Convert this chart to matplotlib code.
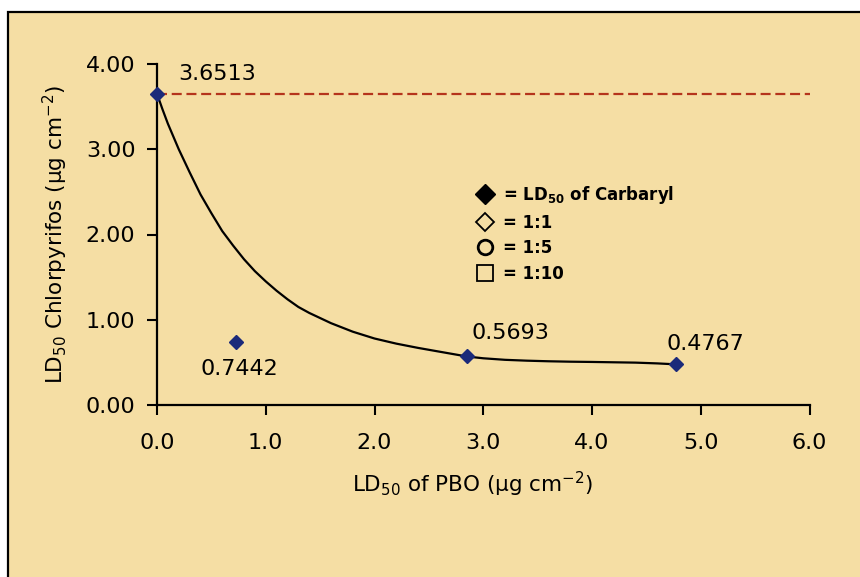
import matplotlib
matplotlib.use("Agg")
import matplotlib.pyplot as plt
from matplotlib.lines import Line2D
from matplotlib.patches import Rectangle
from matplotlib.font_manager import FontProperties

# ---------------- data ----------------
pbo_dose = [0.0, 0.73, 2.85, 4.77]                  # LD50 of PBO (ug cm-2)
chlorpyrifos_ld50 = [3.6513, 0.7442, 0.5693, 0.4767]
point_labels = ["3.6513", "0.7442", "0.5693", "0.4767"]

baseline_ld50 = 3.6513                              # dashed reference line

# fitted curve
curve_x = [0.00, 0.05, 0.10, 0.15, 0.20, 0.30, 0.40, 0.50, 0.60, 0.70, 0.80,
           0.90, 1.00, 1.10, 1.20, 1.30, 1.40, 1.50, 1.60, 1.70, 1.80, 1.90,
           2.00, 2.20, 2.40, 2.60, 2.85, 3.00, 3.20, 3.40, 3.60, 3.80, 4.00,
           4.20, 4.40, 4.60, 4.77]
curve_y = [3.651, 3.47, 3.30, 3.15, 3.00, 2.73, 2.47, 2.25, 2.04, 1.87, 1.71,
           1.57, 1.45, 1.34, 1.24, 1.15, 1.08, 1.02, 0.96, 0.91, 0.86, 0.82,
           0.78, 0.72, 0.67, 0.625, 0.569, 0.548, 0.530, 0.520, 0.513, 0.508, 0.505,
           0.501, 0.497, 0.488, 0.477]

x_ticks = [0, 1, 2, 3, 4, 5, 6]
x_tick_labels = ["0.0", "1.0", "2.0", "3.0", "4.0", "5.0", "6.0"]
y_ticks = [0, 1, 2, 3, 4]
y_tick_labels = ["0.00", "1.00", "2.00", "3.00", "4.00"]

legend_labels = [r"= LD$_{\mathbf{50}}$ of Carbaryl", "= 1:1", "= 1:5", "= 1:10"]

# ---------------- styles ----------------
label_offsets = [(21, 19.5, "left"), (3, -27.5, "center"), (5, 23, "left"), (-9, 20, "left")]
PAPER = "#F5DEA4"
NAVY = "#1B2A7A"
RED = "#B5341C"

plt.rcParams["font.family"] = ["DejaVu Sans"]
plt.rcParams["lines.scale_dashes"] = False

fig = plt.figure(figsize=(8.6, 5.77), dpi=100, facecolor="white")
fig.patches.append(Rectangle((8 / 860, -0.05), 1.1, 1 - 12 / 577 + 0.05,
                             transform=fig.transFigure, facecolor=PAPER,
                             edgecolor="black", lw=1.6, zorder=-10))

ax = fig.add_axes([157 / 860, 1 - 405 / 577, (809.5 - 157) / 860, (405 - 64) / 577])
ax.set_zorder(5)
ax.patch.set_visible(False)

ax.hlines(baseline_ld50, 0, 6, colors=RED, linestyles=(0, (7.2, 3.4)), lw=1.6, zorder=2)
ax.plot(curve_x, curve_y, color="black", lw=1.6, zorder=3,
        solid_joinstyle="round", solid_capstyle="round")
ax.plot(pbo_dose, chlorpyrifos_ld50, ls="none", marker="D", ms=7.2,
        mfc=NAVY, mec=NAVY, zorder=4, clip_on=False)

for x, y, txt, (dx, dy, ha) in zip(pbo_dose, chlorpyrifos_ld50, point_labels, label_offsets):
    ax.annotate(txt, (x, y), xytext=(dx, dy), textcoords="offset pixels",
                ha=ha, va="center", fontsize=16, color="black")

ax.set_xlim(0, 6)
ax.set_ylim(0, 4)
ax.set_xticks(x_ticks, x_tick_labels)
ax.set_yticks(y_ticks, y_tick_labels)
for s in ("top", "right"):
    ax.spines[s].set_visible(False)
for s in ("left", "bottom"):
    ax.spines[s].set_linewidth(1.6)
ax.tick_params(axis="both", direction="out", length=7, width=1.5, labelsize=16)
ax.tick_params(axis="x", pad=13)
ax.tick_params(axis="y", pad=8.5)

ax.set_xlabel(r"LD$_{50}$ of PBO (μg cm$^{-2}$)", fontsize=15.5, va="center")
ax.xaxis.set_label_coords(0.484, -0.232)
ax.set_ylabel(r"LD$_{50}$ Chlorpyrifos (μg cm$^{-2}$)", fontsize=15.5, va="center")
ax.yaxis.set_label_coords(-0.155, 0.501)

handles = [
    Line2D([], [], ls="none", marker="D", ms=10.5, mfc="black", mec="black"),
    Line2D([], [], ls="none", marker="D", ms=9, mfc="none", mec="black", mew=1.3),
    Line2D([], [], ls="none", marker="o", ms=10.5, mfc="none", mec="black", mew=2.0),
    Line2D([], [], ls="none", marker="s", ms=11, mfc="none", mec="black", mew=1.3),
]
ax.legend(handles, legend_labels, loc="upper left", bbox_to_anchor=(0.487, 0.648),
          frameon=False, prop=FontProperties(family="DejaVu Sans", weight="bold", size=12),
          handlelength=1.2, handletextpad=0.5, labelspacing=0.45, borderpad=0,
          borderaxespad=0)

fig.savefig("out.png", dpi=100, facecolor="white")
